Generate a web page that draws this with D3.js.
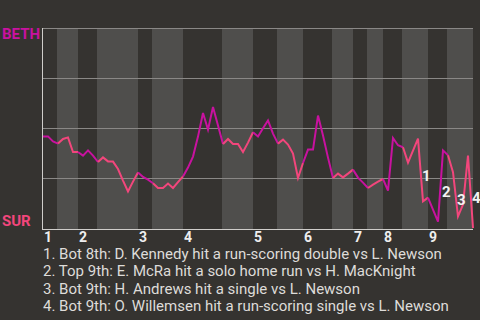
<!DOCTYPE html>
<html>
<head>
<meta charset="utf-8">
<script src="https://cdn.jsdelivr.net/npm/d3@7"></script>
<style>
  html, body { margin: 0; padding: 0; background: #353330; }
  svg { display: block; font-family: Roboto, "Noto Sans", sans-serif; }
</style>
</head>
<body>
<div id="graph"></div>
<script>
// team names (away on top, home at bottom)
var awayTeam = "BETH";
var homeTeam = "SUR";
var innings = ["1", "2", "3", "4", "5", "6", "7", "8", "9"];
// start of each half inning, in plate appearances
var topStarts = [0, 7, 19, 28, 42, 52, 62, 68, 77];
var botStarts = [2.8, 10.8, 21.8, 35.8, 46.8, 57.8, 64.8, 71.8, 80.8];
var lastEvent = 86;
// win probability of the away team after each plate appearance
var awayWinProb = [
  0.458, 0.458, 0.433, 0.422, 0.445, 0.453, 0.380, 0.380, 0.362, 0.388,
  0.362, 0.330, 0.353, 0.333, 0.332, 0.295, 0.237, 0.183, 0.232, 0.278,
  0.255, 0.242, 0.224, 0.200, 0.200, 0.222, 0.200, 0.229, 0.258, 0.302,
  0.357, 0.457, 0.575, 0.492, 0.605, 0.512, 0.420, 0.445, 0.420, 0.420,
  0.380, 0.427, 0.479, 0.458, 0.499, 0.538, 0.472, 0.422, 0.442, 0.417,
  0.372, 0.250, 0.325, 0.392, 0.392, 0.562, 0.462, 0.352, 0.250, 0.272,
  0.253, 0.272, 0.292, 0.252, 0.227, 0.200, 0.217, 0.232, 0.245, 0.187,
  0.450, 0.414, 0.404, 0.327, 0.387, 0.447, 0.133, 0.152, 0.092, 0.032,
  0.388, 0.364, 0.279, 0.058, 0.117, 0.362, 0.000
];
// key plays
var eventIdx = [76, 80, 83, 86];
var eventText = [
  "1. Bot 8th: D. Kennedy hit a run-scoring double vs L. Newson",
  "2. Top 9th: E. McRa hit a solo home run vs H. MacKnight",
  "3. Bot 9th: H. Andrews hit a single vs L. Newson",
  "4. Bot 9th: O. Willemsen hit a run-scoring single vs L. Newson"
];

var w = 480;
var h = 320;
var margin = {top: 28, left: 43, right: 7};
var plotH = 200;
var awayColor = "#c8129f";
var homeColor = "#f2467c";

var svg = d3.select("#graph").append("svg")
  .attr("width", w)
  .attr("height", h);

svg.append("rect")
  .attr("width", w)
  .attr("height", h)
  .attr("fill", "#353330");

var x = d3.scaleLinear()
  .domain([0, lastEvent])
  .range([margin.left, w - margin.right]);
var y = d3.scaleLinear()
  .domain([0, 1])
  .range([margin.top + plotH, margin.top]);

// bottom halves get a lighter band
var bandEnds = topStarts.slice(1).concat([lastEvent]);
svg.selectAll(".band")
  .data(botStarts)
  .enter()
  .append("rect")
  .classed("band", true)
  .attr("x", function(d){ return x(d); })
  .attr("y", y(1))
  .attr("width", function(d, i){ return x(bandEnds[i]) - x(d); })
  .attr("height", y(0) - y(1) + 1)
  .attr("fill", "#4f4e4c");

// grid
svg.selectAll(".grid")
  .data([0.25, 0.5, 0.75, 1])
  .enter()
  .append("line")
  .classed("grid", true)
  .attr("x1", x(0))
  .attr("x2", x(lastEvent))
  .attr("y1", function(d){ return Math.round(y(d)) + 0.5; })
  .attr("y2", function(d){ return Math.round(y(d)) + 0.5; })
  .attr("stroke", "#8a8886")
  .attr("stroke-width", 1);

// axes lines
svg.append("line")
  .attr("x1", Math.round(x(0)) - 0.5).attr("x2", Math.round(x(0)) - 0.5)
  .attr("y1", y(1)).attr("y2", Math.round(y(0)) + 1.5)
  .attr("stroke", "#cfcdca");
svg.append("line")
  .attr("x1", x(0) - 1).attr("x2", x(lastEvent))
  .attr("y1", Math.round(y(0)) + 1.5).attr("y2", Math.round(y(0)) + 1.5)
  .attr("stroke", "#cfcdca");

// inning labels
svg.selectAll(".inning")
  .data(innings)
  .enter()
  .append("text")
  .classed("inning", true)
  .attr("x", function(d, i){ return x(topStarts[i]) + 1; })
  .attr("y", 242)
  .attr("fill", "#eeeeee")
  .style("font-size", "14px")
  .style("font-weight", "bold")
  .text(function(d){ return d; });

// team labels
svg.append("text")
  .attr("x", 2)
  .attr("y", y(1) + 11)
  .attr("fill", awayColor)
  .style("font-size", "15px")
  .style("font-weight", "bold")
  .text(awayTeam);
svg.append("text")
  .attr("x", 2)
  .attr("y", y(0) - 2.5)
  .attr("fill", homeColor)
  .style("font-size", "15px")
  .style("font-weight", "bold")
  .text(homeTeam);

// line split into runs by which team is batting
function isTopHalf(i){
  for (var k = innings.length - 1; k >= 0; k--) {
    if (i >= botStarts[k]) return false;
    if (i >= topStarts[k]) return true;
  }
  return true;
}
var runs = [];
for (var i = 0; i < awayWinProb.length - 1; i++) {
  var awayBatting = isTopHalf(i);
  if (runs.length === 0 || runs[runs.length - 1].away !== awayBatting) {
    runs.push({away: awayBatting, pts: [i]});
  }
  runs[runs.length - 1].pts.push(i + 1);
}

var line = d3.line()
  .x(function(d){ return x(d); })
  .y(function(d){ return y(awayWinProb[d]); });

svg.selectAll(".trendline")
  .data(runs)
  .enter()
  .append("path")
  .classed("trendline", true)
  .attr("d", function(d){ return line(d.pts); })
  .attr("fill", "none")
  .attr("stroke", function(d){ return d.away ? awayColor : homeColor; })
  .attr("stroke-width", 2);

// key play markers
svg.selectAll(".marker")
  .data(eventIdx)
  .enter()
  .append("text")
  .classed("marker", true)
  .attr("x", function(d){ return x(d) - 1; })
  .attr("y", function(d){
    var mid = (awayWinProb[d - 1] + awayWinProb[d]) / 2;
    return y(mid) + 11;
  })
  .attr("fill", "#f2f2f2")
  .style("font-size", "15px")
  .style("font-weight", "bold")
  .text(function(d, i){ return String(i + 1); });

// key play descriptions
svg.selectAll(".desc")
  .data(eventText)
  .enter()
  .append("text")
  .classed("desc", true)
  .attr("x", 43)
  .attr("y", function(d, i){ return 258.5 + i * 17.6; })
  .attr("fill", "#dedcd9")
  .style("font-size", "15px")
  .text(function(d){ return d; });
</script>
</body>
</html>
